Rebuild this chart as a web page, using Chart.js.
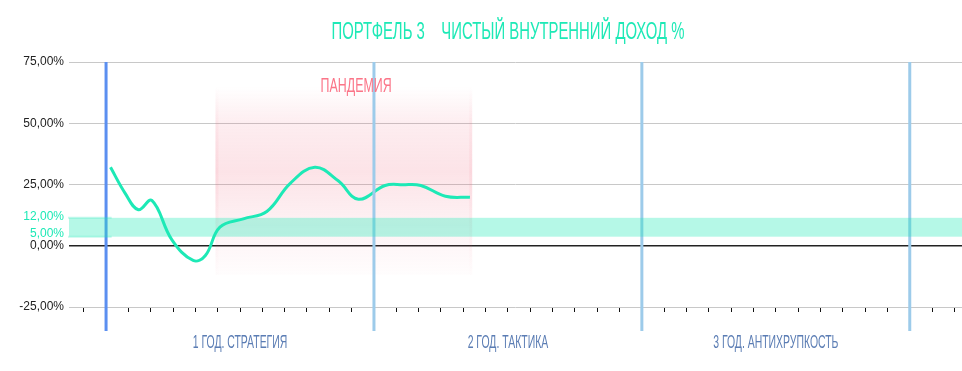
<!DOCTYPE html>
<html>
<head>
<meta charset="utf-8">
<script src="https://cdn.jsdelivr.net/npm/chart.js@4.4.1/dist/chart.umd.min.js"></script>
<style>
  html, body { margin: 0; padding: 0; background: #fff; }
</style>
</head>
<body>
<canvas id="irrChart" width="962" height="371"></canvas>
<script>
// Портфель 3 — чистый внутренний доход, %
const chartTitle = 'ПОРТФЕЛЬ 3    ЧИСТЫЙ ВНУТРЕННИЙ ДОХОД %';

// months from the start of year 1
const months = [0.2, 0.85, 1.45, 2.05, 2.95, 3.9, 4.45, 5.1, 6.15, 7.2, 8.25, 9.35, 10.4, 11.3, 12.5, 13.3, 14.1, 15.2, 16.3];
const irr    = [32, 21.5, 14.7, 18.5, 2.4, -6, -4, 7.6, 11, 14, 25.5, 32, 26.5, 19, 24.6, 24.9, 24.6, 20.2, 19.8];

const yTicks = [-25, 0, 5, 12, 25, 50, 75];
const bandTicks = [5, 12];
const yearLines = [0, 12, 24, 36];
const yearLabels = ['1 ГОД. СТРАТЕГИЯ', '2 ГОД. ТАКТИКА', '3 ГОД. АНТИХРУПКОСТЬ'];
const targetBand = [3.7, 11.4];
const pandemic = [4.9, 16.4];
const pandemicLabel = 'ПАНДЕМИЯ';

const xMin = -1.66, xMax = 38.34;
const teal = '#1de9b6';

function drawNarrow(ctx, text, cx, cy, size, color, squeeze) {
  ctx.save();
  ctx.font = size + 'px "Liberation Sans", Arial, sans-serif';
  ctx.fillStyle = color;
  ctx.textAlign = 'center';
  ctx.textBaseline = 'alphabetic';
  ctx.translate(cx, cy + size * 0.729 / 2);
  ctx.scale(squeeze, 1);
  ctx.fillText(text, 0, 0);
  ctx.restore();
}

const decorations = {
  id: 'decorations',
  beforeDatasetsDraw(chart) {
    const { ctx, scales: { x, y } } = chart;
    // pandemic zone
    const x0 = x.getPixelForValue(pandemic[0]);
    const x1 = x.getPixelForValue(pandemic[1]);
    const top = y.getPixelForValue(65);
    const bottom = y.getPixelForValue(-12);
    const g = ctx.createLinearGradient(0, top, 0, bottom);
    g.addColorStop(0, 'rgba(238,90,115,0)');
    g.addColorStop(0.2, 'rgba(238,90,115,0.11)');
    g.addColorStop(0.45, 'rgba(238,90,115,0.17)');
    g.addColorStop(0.7, 'rgba(238,90,115,0.09)');
    g.addColorStop(1, 'rgba(238,90,115,0.01)');
    ctx.save();
    ctx.fillStyle = g;
    ctx.fillRect(x0, top, x1 - x0, bottom - top);
    ctx.globalAlpha = 0.5;
    ctx.fillRect(x0, top, 3, bottom - top);
    ctx.fillRect(x1 - 3, top, 3, bottom - top);
    ctx.restore();
  },
  afterDatasetsDraw(chart) {
    const { ctx, chartArea, scales: { x, y } } = chart;
    ctx.save();
    // year separators
    yearLines.forEach((m, i) => {
      const px = x.getPixelForValue(m);
      ctx.strokeStyle = i === 0 ? '#5b8ff0' : '#9dcbea';
      ctx.lineWidth = 3;
      ctx.beginPath();
      ctx.moveTo(px, chartArea.top);
      ctx.lineTo(px, chartArea.bottom + 24);
      ctx.stroke();
    });
    // target band
    const bTop = y.getPixelForValue(targetBand[1]);
    const bBot = y.getPixelForValue(targetBand[0]);
    ctx.fillStyle = 'rgba(29,233,182,0.33)';
    ctx.fillRect(chartArea.left, bTop, chartArea.right - chartArea.left, bBot - bTop);
    ctx.strokeStyle = 'rgba(29,233,182,0.25)';
    ctx.lineWidth = 2;
    [bTop, bBot].forEach(py => {
      ctx.beginPath();
      ctx.moveTo(chartArea.left - 1, py);
      ctx.lineTo(x.getPixelForValue(0.25), py);
      ctx.stroke();
    });
    ctx.restore();

    // texts
    drawNarrow(ctx, chartTitle, 508, 30, 24, teal, 0.62);
    drawNarrow(ctx, pandemicLabel, x.getPixelForValue(11.2), 85, 20, '#fb7588', 0.62);
    yearLabels.forEach((t, i) => {
      const cx = (x.getPixelForValue(yearLines[i]) + x.getPixelForValue(yearLines[i + 1])) / 2;
      drawNarrow(ctx, t, cx, 341, 18, '#5b7db4', 0.58);
    });
  }
};

const ctx = document.getElementById('irrChart').getContext('2d');
new Chart(ctx, {
  type: 'line',
  data: {
    datasets: [{
      label: 'ЧВД',
      data: months.map((m, i) => ({ x: m, y: irr[i] })),
      borderColor: teal,
      borderWidth: 3,
      pointRadius: 0,
      fill: false,
      tension: 0.4
    }]
  },
  options: {
    responsive: false,
    animation: false,
    devicePixelRatio: 1,
    layout: { padding: { top: 62, bottom: 59, left: 0, right: 0 } },
    plugins: {
      legend: { display: false },
      title: { display: false },
      tooltip: { enabled: false }
    },
    scales: {
      x: {
        type: 'linear',
        min: xMin,
        max: xMax,
        afterBuildTicks(scale) {
          const t = [];
          for (let m = -1; m <= 38; m++) t.push({ value: m });
          scale.ticks = t;
        },
        ticks: { display: false },
        border: { display: false },
        grid: {
          drawOnChartArea: false,
          drawTicks: true,
          tickLength: 5,
          color: '#111',
          lineWidth: 1
        }
      },
      y: {
        min: -25,
        max: 75,
        afterBuildTicks(scale) {
          scale.ticks = yTicks.map(v => ({ value: v }));
        },
        afterFit(scale) { scale.width = 69; },
        border: { display: false },
        grid: {
          drawTicks: false,
          color: c => c.tick.value === 0 ? '#222' : (bandTicks.includes(c.tick.value) ? 'rgba(0,0,0,0)' : '#c8c8c8'),
          lineWidth: c => c.tick.value === 0 ? 1.5 : 1
        },
        ticks: {
          padding: 5,
          font: { family: '"Liberation Sans", Arial, sans-serif', size: 12 },
          color: c => bandTicks.includes(c.tick.value) ? teal : '#222',
          callback: v => v.toFixed(2).replace('.', ',') + '%'
        }
      }
    }
  },
  plugins: [decorations]
});
</script>
</body>
</html>
